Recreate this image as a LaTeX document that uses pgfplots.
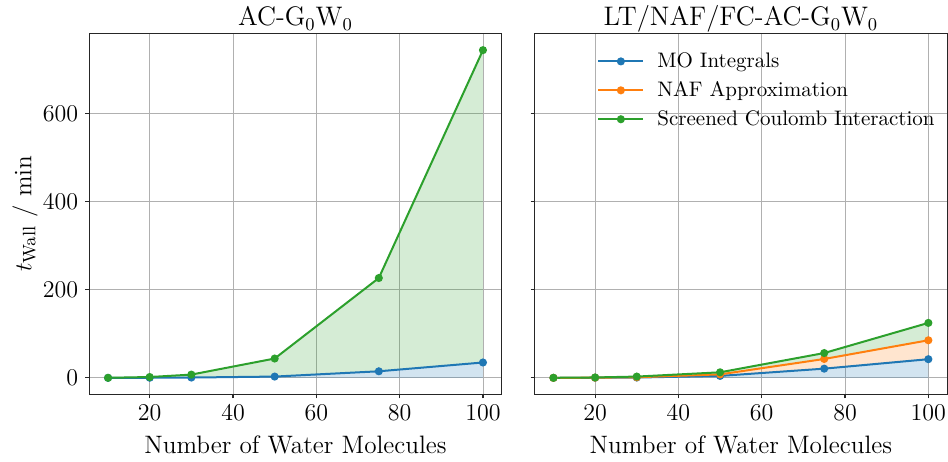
\documentclass[border=0pt]{standalone}
\usepackage{pgfplots}
\pgfplotsset{compat=1.18}
\definecolor{tabblue}{HTML}{1F77B4}
\definecolor{taborange}{HTML}{FF7F0E}
\definecolor{tabgreen}{HTML}{2CA02C}
\definecolor{gridgray}{HTML}{B0B0B0}
\pgfplotsset{
  panel/.style={
    scale only axis, width=206.2pt, height=180.5pt,
    xmin=5.5, xmax=104.5, ymin=-37.3, ymax=783.3,
    xtick={20,40,60,80,100}, ytick={0,200,400,600},
    grid=major, major grid style={color=gridgray, line width=0.45pt},
    axis line style={line width=0.55pt, black!85},
    tick align=outside, tick pos=left, major tick length=2pt,
    every tick/.style={black!85, line width=0.55pt},
    tick label style={font=\fontsize{13}{15}\selectfont},
    label style={font=\fontsize{12.6}{15}\selectfont},
    every axis title shift=0pt,
    title style={font=\fontsize{13.4}{16}\selectfont, at={(axis description cs:0.5,1)}, anchor=base, yshift=3.7pt},
    xlabel style={at={(axis description cs:0.5,-0.14)}, anchor=center},
    ylabel style={at={(axis description cs:-0.156,0.5)}, anchor=center},
    xlabel={Number of Water Molecules},
    legend image code/.code={\draw[mark repeat=2,mark phase=2] plot coordinates {(0pt,0pt)(11.25pt,0pt)(22.5pt,0pt)};},
  },
  ln/.style={color=#1, line width=1pt, mark=*, mark size=1.5pt, mark options={solid, fill=#1, draw=#1}},
  fl/.style={fill=#1, fill opacity=0.2, draw=none, forget plot},
}
\begin{document}
\begin{tikzpicture}
\begin{axis}[panel, at={(0pt,0pt)}, anchor=south west,
  title={AC-G$_0$W$_0$}, ylabel={$t_{\mathrm{Wall}}$ / min}]
\addplot[fl=tabblue] coordinates {(10,0) (20,0.3) (30,0.8) (50,3) (75,15) (100,35) (100,0) (10,0)} -- cycle;
\addplot[fl=tabgreen] coordinates {(10,0.2) (20,2) (30,7.5) (50,44) (75,227) (100,745) (100,35) (75,15) (50,3) (30,0.8) (20,0.3) (10,0)} -- cycle;
\addplot[ln=tabblue] coordinates {(10,0) (20,0.3) (30,0.8) (50,3) (75,15) (100,35)};
\addplot[ln=tabgreen] coordinates {(10,0.2) (20,2) (30,7.5) (50,44) (75,227) (100,745)};
\end{axis}
\begin{axis}[panel, at={(222.7pt,0pt)}, anchor=south west,
  title={LT/NAF/FC-AC-G$_0$W$_0$}, yticklabels={},
  legend cell align=left,
  legend style={draw=none, fill=none, at={(axis description cs:0.151,0.959)}, anchor=north west,
    font=\fontsize{10.5}{12.5}\selectfont, row sep=1.5pt, inner sep=0pt,
    /tikz/every odd column/.append style={column sep=4.5pt}}]
\addplot[fl=tabblue] coordinates {(10,0) (20,0.3) (30,0.8) (50,4.5) (75,21) (100,42.5) (100,0) (10,0)} -- cycle;
\addplot[fl=taborange] coordinates {(10,0) (20,0.5) (30,1.5) (50,8) (75,43) (100,85.5) (100,42.5) (75,21) (50,4.5) (30,0.8) (20,0.3) (10,0)} -- cycle;
\addplot[fl=tabgreen] coordinates {(10,0.2) (20,1) (30,3) (50,12.7) (75,56.5) (100,125) (100,85.5) (75,43) (50,8) (30,1.5) (20,0.5) (10,0)} -- cycle;
\addplot[ln=tabblue] coordinates {(10,0) (20,0.3) (30,0.8) (50,4.5) (75,21) (100,42.5)};
\addlegendentry{MO Integrals}
\addplot[ln=taborange] coordinates {(10,0) (20,0.5) (30,1.5) (50,8) (75,43) (100,85.5)};
\addlegendentry{NAF Approximation}
\addplot[ln=tabgreen] coordinates {(10,0.2) (20,1) (30,3) (50,12.7) (75,56.5) (100,125)};
\addlegendentry{Screened Coulomb Interaction}
\end{axis}
\pgfresetboundingbox
\useasboundingbox (-44.65pt,-33.35pt) rectangle (429.35pt,197.15pt);
\end{tikzpicture}
\end{document}
